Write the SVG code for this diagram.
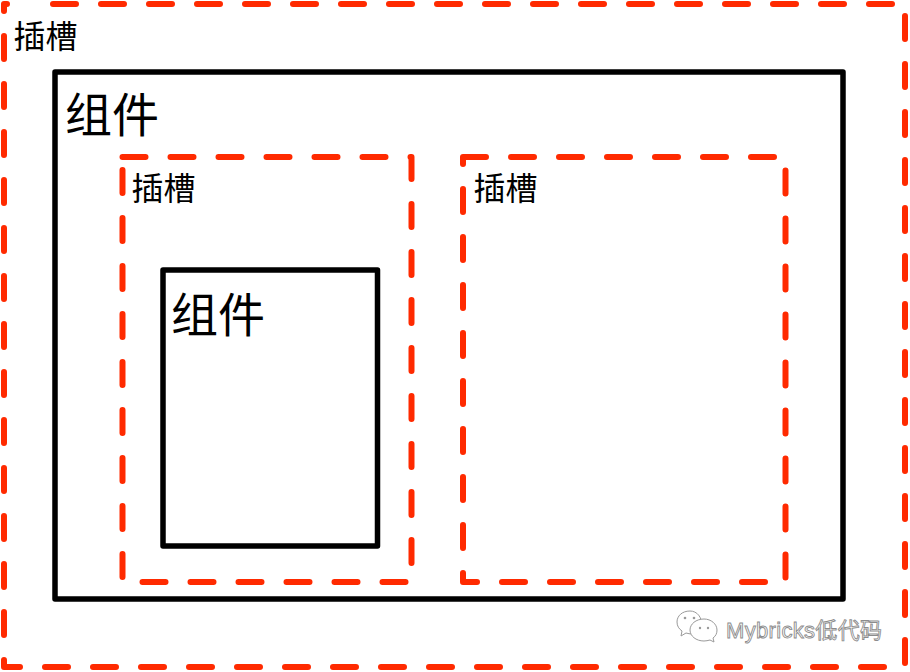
<svg xmlns="http://www.w3.org/2000/svg" width="910" height="672" viewBox="0 0 910 672">
<style>
.slot{fill:none;stroke:#ff2a00;stroke-width:6;stroke-dasharray:23 25;stroke-linecap:round;stroke-linejoin:round}
.comp{fill:none;stroke:#000;stroke-width:5.5;stroke-linejoin:round}
.t{font-family:"Noto Sans CJK SC","Noto Sans",sans-serif;fill:#000}
.wm{font-family:"Liberation Sans","Noto Sans CJK SC",sans-serif;font-size:22px;fill:#ffffff;stroke:#8c8c8c;stroke-width:0.9}
.ic{fill:#fff;stroke:#9a9a9a;stroke-width:1}
</style>
<rect width="910" height="672" fill="#fff"/>
<g id="slot-outer">
<path class="slot" d="M53,4 H905 V667 H4 V4 H7"/>
<text class="t" x="13.5" y="47.5" font-size="32">插槽</text>
</g>
<g id="comp-outer">
<rect class="comp" x="55" y="72" width="788" height="527"/>
<text class="t" x="65" y="131.5" font-size="47">组件</text>
</g>
<g id="slot-left">
<rect class="slot" x="122.5" y="157" width="289" height="425"/>
<text class="t" x="131.5" y="200" font-size="32">插槽</text>
</g>
<g id="comp-inner">
<rect class="comp" x="163" y="270" width="214.5" height="276"/>
<text class="t" x="171" y="331.5" font-size="47">组件</text>
</g>
<g id="slot-right">
<rect class="slot" x="463" y="157" width="322.5" height="425"/>
<text class="t" x="473.5" y="200" font-size="32">插槽</text>
</g>
<g id="connectors"></g>
<g id="watermark">
<path class="ic" d="M690,611 C682,611 677,616 677,622 C677,626 679,629 682,631 L681,636 L686,633 C688,633.5 690,634 692,634 L702,626 C702,617 697,611 690,611 Z"/>
<circle cx="685" cy="618" r="1.3" fill="#9a9a9a"/>
<circle cx="694" cy="618" r="1.3" fill="#9a9a9a"/>
<path class="ic" d="M704,619 C696,619 690,624 690,630 C690,636 696,641 704,641 C706,641 708,640.5 710,640 L714,642 L713,638 C716,636 717,633 717,630 C717,624 711,619 704,619 Z"/>
<circle cx="700" cy="628" r="1.2" fill="#9a9a9a"/>
<circle cx="708" cy="628" r="1.2" fill="#9a9a9a"/>
<text class="wm" x="726" y="638" textLength="156" lengthAdjust="spacing">Mybricks低代码</text>
</g>
</svg>
